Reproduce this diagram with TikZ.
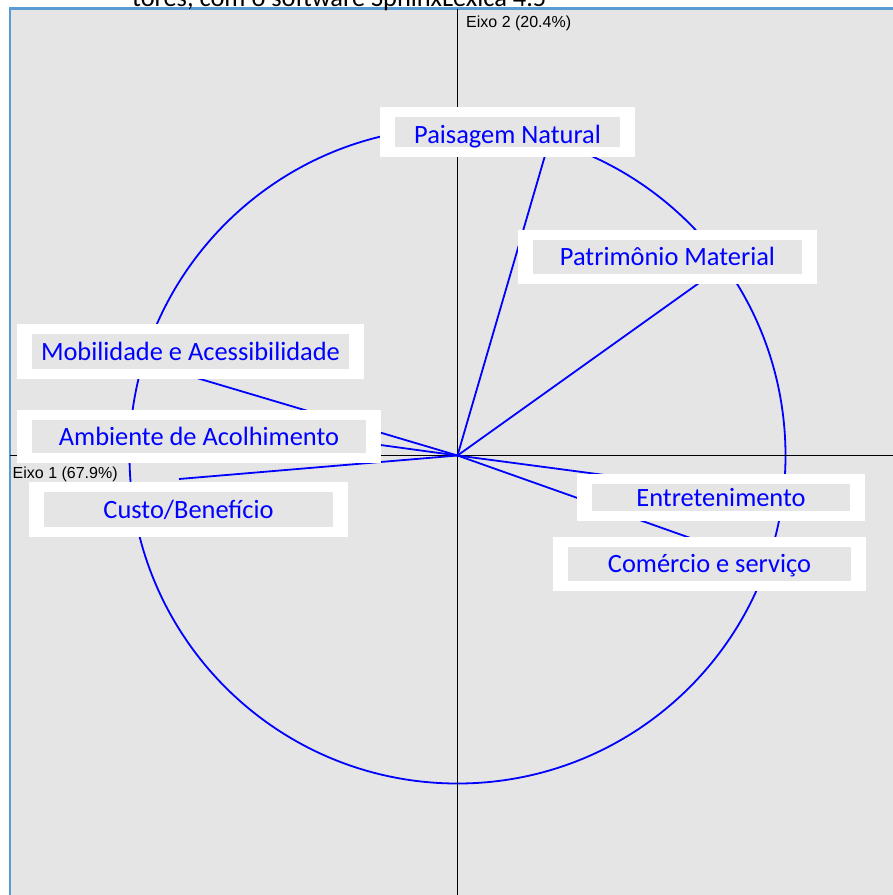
\documentclass[tikz,border=0pt]{standalone}
\usepackage{fontspec}
\newfontfamily\lblfont{Carlito}
\newfontfamily\axfont{Liberation Sans}
\definecolor{panel}{HTML}{E5E5E5}
\definecolor{frameblue}{HTML}{5B9BD5}
\begin{document}
\begin{tikzpicture}[x=1pt,y=-1pt,
  lbl/.style={fill=white, text=blue, inner sep=0pt, text height=17pt, text depth=0pt,
    font=\lblfont\fontsize{26.4}{30}\selectfont,
    path picture={\fill[panel] ([xshift=15pt,yshift=10pt]path picture bounding box.south west) rectangle ([xshift=-15pt,yshift=-10pt]path picture bounding box.north east);}},
  vec/.style={blue, line width=1.8pt},
  axisline/.style={black, line width=1.8pt},
  axlbl/.style={font=\axfont\fontsize{16}{18}\selectfont, inner sep=0pt, anchor=base west}]
\useasboundingbox (0,0) rectangle (893,895);
% panel
\fill[panel] (10,8.5) rectangle (893,895);
\draw[frameblue, line width=2.5pt] (10,895) -- (10,8.5) -- (893,8.5);
% clipped caption line above the panel
\node[anchor=base west, inner sep=0pt, font=\lblfont\fontsize{26.4}{30}\selectfont] (cap) at (132,6) {tores, com o software SphinxLexica 4.5};
% origin and vector end points
\coordinate (O) at (457.5,455.5);
\coordinate (pN) at (551,135);
\coordinate (pM) at (720,268);
\coordinate (pMob) at (170,370);
\coordinate (pAmb) at (300,434);
\coordinate (pCus) at (179,479);
\coordinate (pEnt) at (680,485);
\coordinate (pCom) at (720,548.5);
% circle
\draw[vec] (O) circle[radius=328];
% axes
\draw[axisline] (10,455.5) -- (893,455.5);
\draw[axisline] (457.5,8.5) -- (457.5,895);
% vectors
\draw[vec] (O) -- (pN);
\draw[vec] (O) -- (pM);
\draw[vec] (O) -- (pMob);
\draw[vec] (O) -- (pAmb);
\draw[vec] (O) -- (pCus);
\draw[vec] (O) -- (pEnt);
\draw[vec] (O) -- (pCom);
% labels
\node[lbl, minimum width=255pt, minimum height=50pt] (pais) at (507.5,132) {\raisebox{-2.5pt}{Paisagem Natural}};
\node[lbl, minimum width=299pt, minimum height=54pt] (patr) at (667.5,257) {Patrimônio Material};
\node[lbl, minimum width=347pt, minimum height=55pt] (mobi) at (190.5,351.5) {Mobilidade e Acessibilidade};
\node[lbl, minimum width=364pt, minimum height=53pt] (ambi) at (199,436.5) {Ambiente de Acolhimento};
\node[lbl, minimum width=319pt, minimum height=55pt] (cust) at (188.5,509.5) {Custo/Benefício};
\node[lbl, minimum width=288pt, minimum height=47pt] (entr) at (721,497.5) {Entretenimento};
\node[lbl, minimum width=313pt, minimum height=54pt] (come) at (709.5,564) {Comércio e serviço};
% axis labels
\node[axlbl] (e2) at (466,27.7) {Eixo 2 (20.4\%)};
\node[axlbl] (e1) at (12.5,478.5) {Eixo 1 (67.9\%)};
\end{tikzpicture}
\end{document}
